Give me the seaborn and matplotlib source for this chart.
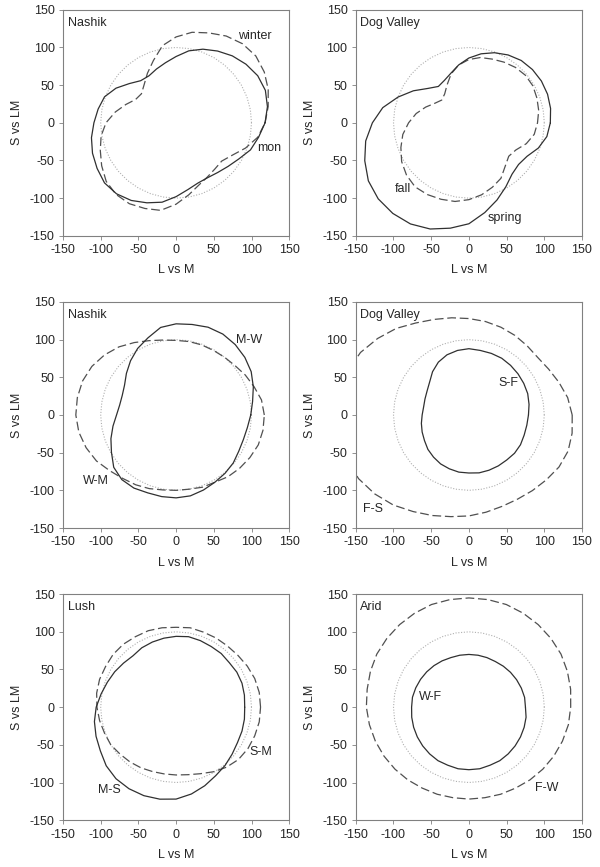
import numpy as np
import pandas as pd
import matplotlib.pyplot as plt
import seaborn as sns

# radii every 10 degrees, starting on the +x axis, counter-clockwise
ANGLES = list(range(0, 360, 10))

ref_circle = [100] * 36

nashik_mon = [118, 123, 126, 125, 121, 116, 110, 104, 97, 88, 81, 76,
              72, 73, 81, 92, 101, 105, 109, 114, 118, 121, 124, 123,
              119, 113, 107, 98, 90, 85, 84, 86, 90, 96, 105, 111]
nashik_winter = [118, 124, 130, 135, 138, 137, 133, 127, 122, 114, 104, 88,
                 76, 66, 60, 62, 71, 82, 93, 101, 107, 114, 121, 124,
                 124, 121, 118, 108, 97, 88, 83, 80, 79, 86, 98, 110]

dog_spring = [108, 110, 111, 111, 110, 108, 104, 99, 93, 86, 78, 70,
              65, 63, 71, 85, 100, 116, 128, 139, 147, 154, 157, 157,
              155, 150, 142, 134, 121, 109, 98, 89, 86, 89, 98, 105]
dog_fall = [91, 94, 96, 98, 98, 96, 93, 90, 88, 84, 78, 69,
            58, 50, 47, 52, 61, 71, 80, 89, 96, 103, 108, 111,
            110, 108, 106, 102, 97, 91, 85, 75, 69, 72, 81, 88]

nashik_mw = [99, 103, 109, 115, 119, 122, 124, 124, 122, 121, 118, 109,
             102, 94, 86, 79, 76, 76, 79, 85, 92, 99, 108, 112,
             112, 110, 110, 110, 109, 106, 103, 101, 99, 96, 95, 96]
nashik_wm = [117, 115, 110, 106, 102, 100, 99, 99, 99, 99, 101, 105,
             111, 118, 124, 129, 132, 133, 133, 131, 127, 122, 115, 110,
             107, 104, 101, 100, 100, 102, 103, 107, 110, 113, 116, 117]

dog_sf = [79, 81, 83, 84, 85, 86, 87, 87, 87, 88, 87, 85,
          81, 75, 68, 64, 62, 61, 62, 64, 66, 68, 71, 73,
          75, 76, 77, 77, 78, 78, 78, 78, 79, 79, 78, 78]
dog_fs = [137, 133, 127, 122, 119, 120, 122, 124, 126, 128, 131, 135,
          141, 150, 158, 166, 171, 174, 175, 174, 172, 169, 163, 156,
          148, 142, 137, 134, 131, 129, 129, 131, 134, 138, 140, 139]

lush_ms = [91, 92, 93, 93, 92, 93, 93, 94, 95, 94, 93, 92,
           91, 89, 91, 94, 97, 101, 106, 110, 113, 116, 121, 124,
           125, 125, 124, 122, 117, 111, 105, 101, 97, 94, 93, 92]
lush_sm = [112, 112, 111, 109, 107, 106, 106, 106, 107, 106, 107, 108,
           108, 109, 109, 108, 108, 107, 105, 103, 101, 100, 97, 95,
           93, 91, 90, 90, 91, 94, 99, 104, 108, 110, 111, 112]

arid_wf = [75, 75, 74, 73, 72, 71, 70, 70, 70, 70, 70, 70,
           71, 72, 73, 74, 75, 76, 76, 77, 78, 79, 80, 81,
           82, 82, 83, 83, 83, 82, 82, 81, 80, 79, 78, 77]
arid_fw = [135, 137, 139, 141, 142, 143, 144, 145, 145, 145, 145, 145,
           144, 143, 142, 141, 139, 137, 136, 134, 132, 130, 128, 126,
           124, 123, 122, 122, 122, 123, 124, 126, 128, 130, 132, 134]

panels = [
    ("Nashik", nashik_mon, nashik_winter, "mon", (123, -34), "winter", (105, 115)),
    ("Dog Valley", dog_spring, dog_fall, "spring", (48, -126), "fall", (-88, -88)),
    ("Nashik", nashik_mw, nashik_wm, "M-W", (97, 99), "W-M", (-107, -87)),
    ("Dog Valley", dog_sf, dog_fs, "S-F", (52, 43), "F-S", (-127, -125)),
    ("Lush", lush_ms, lush_sm, "M-S", (-88, -110), "S-M", (112, -60)),
    ("Arid", arid_wf, arid_fw, "W-F", (-51, 14), "F-W", (103, -107)),
]

ticks = [-150, -100, -50, 0, 50, 100, 150]


def curve(radii):
    th = np.deg2rad(ANGLES + [360])
    r = np.array(radii + radii[:1], dtype=float)
    return pd.DataFrame({"x": r * np.cos(th), "y": r * np.sin(th)})


sns.set_style("white")
plt.rcParams['font.family'] = ['Liberation Sans', 'DejaVu Sans']
plt.rcParams['axes.unicode_minus'] = False

fig = plt.figure(figsize=(6, 8.67), dpi=100)
lefts = [0.105, 0.593]
bottoms = [0.728, 0.391, 0.054]
w, h = 0.377, 0.2607

for i, (site, solid, dashed, s_lab, s_pos, d_lab, d_pos) in enumerate(panels):
    ax = fig.add_axes([lefts[i % 2], bottoms[i // 2], w, h])
    sns.lineplot(data=curve(ref_circle), x="x", y="y", sort=False, estimator=None, ax=ax,
                 color="#b0b0b0", lw=0.8, linestyle=(0, (1, 1.5)))
    sns.lineplot(data=curve(dashed), x="x", y="y", sort=False, estimator=None, ax=ax,
                 color="#505050", lw=0.9, linestyle=(0, (7, 3)))
    sns.lineplot(data=curve(solid), x="x", y="y", sort=False, estimator=None, ax=ax,
                 color="#303030", lw=0.9)

    ax.set_xlim(-150, 150)
    ax.set_ylim(-150, 150)
    ax.set_xticks(ticks)
    ax.set_yticks(ticks)
    ax.tick_params(direction="out", length=3, width=0.6, color="#808080",
                   labelsize=9, pad=3, bottom=True, left=True)
    for sp in ax.spines.values():
        sp.set_color("#808080")
        sp.set_linewidth(0.8)
    ax.set_xlabel("L vs M", fontsize=9, labelpad=6)
    ax.set_ylabel("S vs LM", fontsize=9, labelpad=5)

    ax.text(0.02, 0.97, site, transform=ax.transAxes, fontsize=9, ha="left", va="top")
    ax.text(s_pos[0], s_pos[1], s_lab, fontsize=9, ha="center", va="center")
    ax.text(d_pos[0], d_pos[1], d_lab, fontsize=9, ha="center", va="center")

fig.savefig("out.png", dpi=100)
